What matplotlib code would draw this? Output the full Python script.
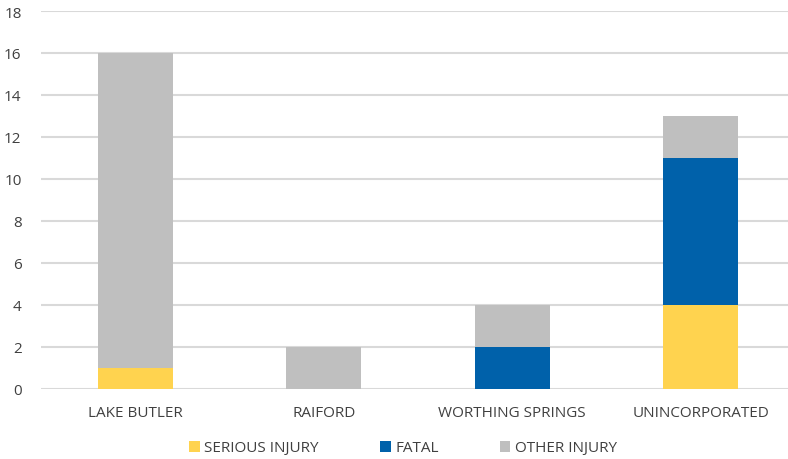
import matplotlib.pyplot as plt
import numpy as np

plt.rcParams['font.family'] = ['Open Sans', 'DejaVu Sans']

places = ['LAKE BUTLER', 'RAIFORD', 'WORTHING SPRINGS', 'UNINCORPORATED']
serious = [1, 0, 0, 4]
fatal = [0, 0, 2, 7]
other = [15, 2, 2, 2]

c_serious = '#FFD34F'
c_fatal = '#0061AA'
c_other = '#BFBFBF'
grid_c = '#D9D9D9'
txt_c = '#404040'

fig = plt.figure(figsize=(7.88, 4.6), dpi=100)
ax = fig.add_axes([41 / 788, 70.5 / 460, 754 / 788, 377.5 / 460])

x = np.arange(len(places))
w = 0.4
s = np.array(serious)
f = np.array(fatal)
o = np.array(other)
ax.bar(x, s, w, color=c_serious, label='SERIOUS INJURY', zorder=3)
ax.bar(x, f, w, bottom=s, color=c_fatal, label='FATAL', zorder=3)
ax.bar(x, o, w, bottom=s + f, color=c_other, label='OTHER INJURY', zorder=3)

ax.set_xlim(-0.5, len(places) - 0.5)
ax.set_ylim(0, 18)
ax.set_yticks(range(0, 19, 2))
ax.yaxis.grid(True, color=grid_c, linewidth=1.5, zorder=0)
ax.set_axisbelow(True)
for sp in ax.spines.values():
    sp.set_visible(False)
ax.tick_params(length=0, labelsize=11, colors=txt_c)
ax.tick_params(axis='y', pad=14)
ax.tick_params(axis='x', pad=12)
ax.set_xticks(x)
ax.set_xticklabels(places)

fig.legend(loc='center', bbox_to_anchor=(403 / 788, 1 - 449 / 460), ncol=3,
           frameon=False, fontsize=11, handlelength=0.7, handleheight=0.7,
           handletextpad=0.3, columnspacing=4.0, labelcolor=txt_c)

fig.savefig('out.png', dpi=100)
